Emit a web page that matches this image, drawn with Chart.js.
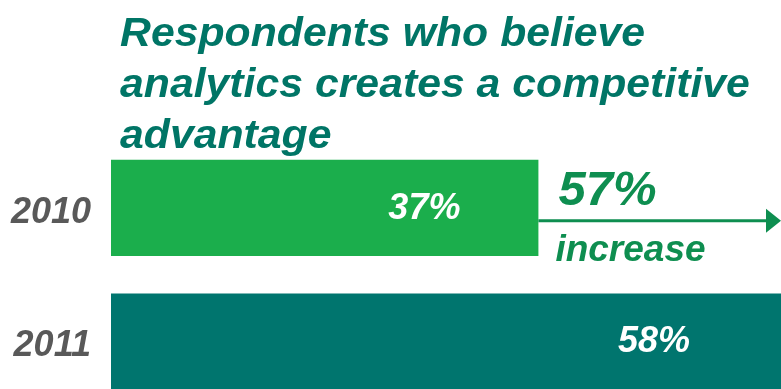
<!DOCTYPE html>
<html>
<head>
<meta charset="utf-8">
<script src="https://cdn.jsdelivr.net/npm/chart.js@4/dist/chart.umd.min.js"></script>
<style>
  html, body { margin:0; padding:0; background:#fff; }
  #wrap { width:781px; height:389px; overflow:hidden; position:relative; }
  #c { display:block; width:781px; height:442px; }
</style>
</head>
<body>
<div id="wrap"><canvas id="c" width="781" height="442"></canvas></div>
<script>
const years = ['2010', '2011'];
const shares = [37, 58];
const valueLabels = ['37%', '58%'];
const titleLines = ['Respondents who believe', 'analytics creates a competitive', 'advantage'];
const increaseText = ['57%', 'increase'];

const FONT = '"Liberation Sans", Arial, sans-serif';

// title + increase arrow + labels inside bars
const extras = {
  id: 'extras',
  afterDraw(chart){
    const ctx = chart.ctx;
    const xs = chart.scales.x, ys = chart.scales.y;
    ctx.save();

    // title
    ctx.save();
    ctx.fillStyle = '#007566';
    ctx.font = 'italic bold 41px ' + FONT;
    ctx.textAlign = 'left'; ctx.textBaseline = 'alphabetic';
    ctx.translate(chart.chartArea.left + 9, 0);
    ctx.scale(1.043, 1);
    titleLines.forEach((t,i)=> ctx.fillText(t, 0, 46 + i*51));
    ctx.restore();

    // labels
    const meta = chart.getDatasetMeta(0);
    const inset = [78, 91];
    ctx.fillStyle = '#fff';
    ctx.textAlign = 'right'; ctx.textBaseline = 'middle';
    ctx.font = 'italic bold 36px ' + FONT;
    meta.data.forEach((bar,i)=>{
      ctx.fillText(valueLabels[i], bar.x - inset[i], bar.y + 1);
    });

    // arrow
    const x0 = xs.getPixelForValue(shares[0]);
    const yc = ys.getPixelForValue(0);
    const ya = yc + 13;
    const green = '#0e8e50';
    ctx.strokeStyle = green; ctx.fillStyle = green; ctx.lineWidth = 3;
    ctx.beginPath(); ctx.moveTo(x0, ya); ctx.lineTo(chart.width - 12, ya); ctx.stroke();
    ctx.beginPath();
    ctx.moveTo(chart.width - 15, ya - 12);
    ctx.lineTo(chart.width, ya);
    ctx.lineTo(chart.width - 15, ya + 12);
    ctx.closePath(); ctx.fill();

    ctx.textAlign = 'left'; ctx.textBaseline = 'alphabetic';
    ctx.font = 'italic bold 49px ' + FONT;
    ctx.fillText(increaseText[0], x0 + 20, yc - 3);
    ctx.font = 'italic bold 37px ' + FONT;
    ctx.fillText(increaseText[1], x0 + 17, yc + 53);
    ctx.restore();
  }
};

new Chart(document.getElementById('c').getContext('2d'), {
  type: 'bar',
  data: {
    labels: years,
    datasets: [{
      data: shares,
      backgroundColor: ['#1bae4c', '#00756e'],
      borderWidth: 0,
      barPercentage: 0.72,
      categoryPercentage: 1
    }]
  },
  options: {
    indexAxis: 'y',
    responsive: false,
    maintainAspectRatio: false,
    animation: false,
    layout: { padding: { top: 141, bottom: 10, left: 0, right: 0 } },
    plugins: { legend: { display:false }, tooltip: { enabled:false }, title: { display:false } },
    scales: {
      x: { display:false, min:0, max:58 },
      y: {
        grid: { display:false },
        border: { display:false },
        ticks: {
          color: '#595959',
          font: { family: FONT, size: 36, style: 'italic', weight: 'bold' },
          padding: 12,
          labelOffset: 5
        },
        afterFit(scale){ scale.width = 111; }
      }
    }
  },
  plugins: [extras]
});
</script>
</body>
</html>
